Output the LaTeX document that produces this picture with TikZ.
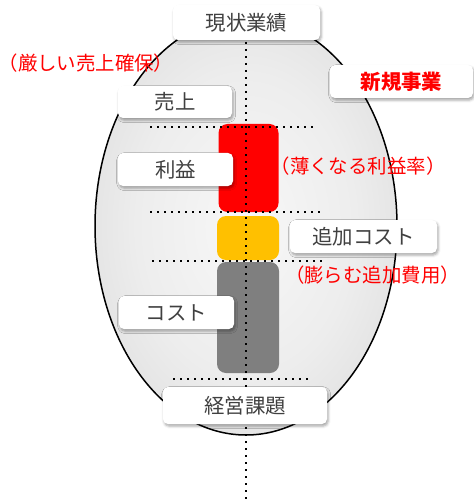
\documentclass[tikz,border=0pt]{standalone}
\usepackage{fontspec}
\setmainfont{Noto Sans CJK JP}
\usetikzlibrary{shadows.blur}
\pgfdeclareradialshading{eggshade}{\pgfpoint{0bp}{0bp}}{color(0bp)=(black!3); color(18bp)=(black!7); color(50bp)=(black!21); color(80bp)=(black!21)}
\definecolor{txtgray}{HTML}{404040}
\definecolor{ambar}{HTML}{FFC000}
\definecolor{midgray}{HTML}{7F7F7F}
\tikzset{
  labelbox/.style={draw=none, fill=white, rounded corners=5bp, inner sep=0pt,
    text=txtgray, font=\fontsize{20.5}{24}\selectfont,
    blur shadow={shadow xshift=1.2bp, shadow yshift=-2.2bp, shadow blur radius=2.5bp, shadow opacity=35}},
  bar/.style={draw=none, rounded corners=9bp, inner sep=0pt},
  note/.style={text=red, font=\fontsize{19.5}{22}\selectfont, inner sep=0pt},
  dotline/.style={line width=2bp, dash pattern=on 2bp off 5bp, black}
}
\begin{document}
\begin{tikzpicture}[x=1bp,y=-1bp]
\useasboundingbox (0,0) rectangle (474,502);
% egg
\path[shading=eggshade] (246,226) ellipse [x radius=151bp, y radius=209bp];
\draw[line width=1.5bp] (246,226) ellipse [x radius=151bp, y radius=209bp];
% bars
\node[bar, fill=red, minimum width=60bp, minimum height=88bp] (profit) at (248.5,168) {};
\node[bar, fill=ambar, minimum width=62bp, minimum height=44bp] (extra) at (248,238) {};
\node[bar, fill=midgray, minimum width=62bp, minimum height=111bp] (cost) at (248,317.5) {};
% dotted guides
\coordinate (vtop) at (246,35);
\coordinate (vbot) at (246,502);
\draw[dotline] (vtop) -- (vbot);
\coordinate (h1a) at (150,127); \coordinate (h1b) at (313,127);
\coordinate (h2a) at (150,212); \coordinate (h2b) at (321,212);
\coordinate (h3a) at (152,261); \coordinate (h3b) at (323,261);
\coordinate (h4a) at (173,379); \coordinate (h4b) at (312,379);
\draw[dotline] (h1a) -- (h1b);
\draw[dotline] (h2a) -- (h2b);
\draw[dotline] (h3a) -- (h3b);
\draw[dotline] (h4a) -- (h4b);
% label boxes
\node[labelbox, minimum width=147bp, minimum height=35bp] (genjo) at (246.5,22.5) {現状業績};
\node[labelbox, minimum width=143bp, minimum height=33bp, text=red, font=\fontsize{20.5}{24}\selectfont\bfseries] (shinki) at (401.5,81.5) {新規事業};
\node[labelbox, minimum width=114bp, minimum height=32bp] (uriage) at (175,102) {売上};
\node[labelbox, minimum width=115bp, minimum height=33bp] (rieki) at (175.5,169.5) {利益};
\node[labelbox, minimum width=147bp, minimum height=33bp] (tsuika) at (363.5,236.5) {追加コスト};
\node[labelbox, minimum width=115bp, minimum height=33bp] (kosuto) at (176.5,312.5) {コスト};
\node[labelbox, minimum width=164bp, minimum height=37bp] (keiei) at (245,405.5) {経営課題};
% red notes
\node[note] (n1) at (86,63) {（厳しい売上確保）};
\node[note] (n2) at (358,166) {（薄くなる利益率）};
\node[note] (n3) at (372.5,275) {（膨らむ追加費用）};
\end{tikzpicture}
\end{document}
